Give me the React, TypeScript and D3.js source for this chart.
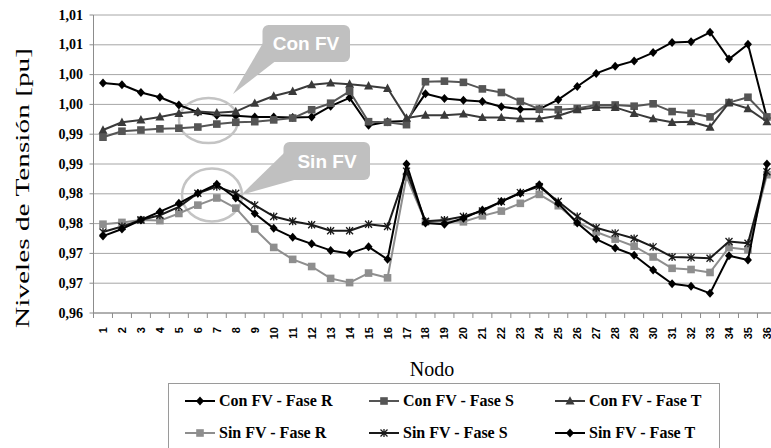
import React from 'react';
import * as d3 from 'd3';

const nodeLabels = ['1','2','3','4','5','6','7','8','9','10','11','12','13','14','15','16','17','18','19','20','21','22','23','24','25','26','27','28','29','30','31','32','33','34','35','36'];

const conFvR = [0.9986,0.9983,0.9970,0.9962,0.9949,0.9937,0.9932,0.9931,0.9929,0.9929,0.9928,0.9929,0.9947,0.9961,0.9915,0.9921,0.9922,0.9968,0.9960,0.9957,0.9955,0.9946,0.9942,0.9942,0.9958,0.9980,1.0002,1.0014,1.0023,1.0037,1.0054,1.0055,1.0071,1.0026,1.0051,0.9927];
const conFvS = [0.9895,0.9905,0.9907,0.9909,0.9910,0.9912,0.9917,0.9920,0.9921,0.9924,0.9927,0.9941,0.9952,0.9972,0.9921,0.9920,0.9916,0.9988,0.9989,0.9987,0.9976,0.9970,0.9955,0.9942,0.9941,0.9943,0.9949,0.9949,0.9947,0.9951,0.9938,0.9935,0.9929,0.9953,0.9962,0.9929];
const conFvT = [0.9907,0.9920,0.9924,0.9929,0.9935,0.9938,0.9936,0.9938,0.9952,0.9964,0.9972,0.9983,0.9986,0.9984,0.9981,0.9977,0.9927,0.9932,0.9932,0.9934,0.9928,0.9928,0.9926,0.9926,0.9931,0.9941,0.9945,0.9945,0.9935,0.9926,0.9920,0.9921,0.9912,0.9953,0.9943,0.9921];
const sinFvR = [0.9749,0.9752,0.9756,0.9755,0.9767,0.9781,0.9793,0.9776,0.9741,0.9710,0.9690,0.9678,0.9658,0.9651,0.9667,0.9659,0.9829,0.9753,0.9754,0.9753,0.9763,0.9771,0.9784,0.9799,0.9780,0.9753,0.9736,0.9724,0.9712,0.9694,0.9675,0.9673,0.9668,0.9710,0.9706,0.9832];
const sinFvS = [0.9736,0.9745,0.9756,0.9764,0.9778,0.9801,0.9812,0.9801,0.9781,0.9762,0.9754,0.9748,0.9738,0.9738,0.9749,0.9745,0.9838,0.9754,0.9756,0.9762,0.9771,0.9787,0.9802,0.9812,0.9787,0.9762,0.9743,0.9734,0.9725,0.9711,0.9694,0.9693,0.9692,0.9720,0.9717,0.9837];
const sinFvT = [0.9729,0.9741,0.9756,0.9770,0.9784,0.9801,0.9816,0.9793,0.9767,0.9742,0.9727,0.9716,0.9705,0.9700,0.9711,0.9690,0.9850,0.9751,0.9749,0.9759,0.9773,0.9787,0.9801,0.9815,0.9784,0.9751,0.9724,0.9709,0.9697,0.9672,0.9649,0.9645,0.9633,0.9696,0.9689,0.9850];

const yTickValues = [0.96,0.965,0.97,0.975,0.98,0.985,0.99,0.995,1.0,1.005,1.01];
const yTickLabels = ['0,96','0,97','0,97','0,98','0,98','0,99','0,99','1,00','1,00','1,01','1,01'];

const seriesNames = ['Con FV - Fase R','Con FV - Fase S','Con FV - Fase T','Sin FV - Fase R','Sin FV - Fase S','Sin FV - Fase T'];
const seriesValues = [conFvR, conFvS, conFvT, sinFvR, sinFvS, sinFvT];
const seriesColors = ['#000000','#555555','#3a3a3a','#8e8e8e','#1a1a1a','#000000'];
const seriesMarkers = ['diamond','square','triangle','square','asterisk','diamond'];

const serifFont = "'Liberation Serif', 'Times New Roman', Times, serif";
const sansFont = "'Liberation Sans', Arial, sans-serif";

function Marker({ type, cx, cy, color }: { type: string; cx: number; cy: number; color: string }) {
  if (type === 'diamond') {
    return <path d={`M${cx},${cy - 4.5}L${cx + 4},${cy}L${cx},${cy + 4.5}L${cx - 4},${cy}Z`} fill={color} />;
  }
  if (type === 'square') {
    return <rect x={cx - 3.8} y={cy - 3.8} width={7.6} height={7.6} fill={color} />;
  }
  if (type === 'triangle') {
    return <path d={`M${cx},${cy - 4.8}L${cx + 4.5},${cy + 3.6}L${cx - 4.5},${cy + 3.6}Z`} fill={color} />;
  }
  return (
    <path
      d={`M${cx - 3.5},${cy - 3.5}L${cx + 3.5},${cy + 3.5}M${cx + 3.5},${cy - 3.5}L${cx - 3.5},${cy + 3.5}M${cx},${cy - 4}L${cx},${cy + 4}`}
      stroke={color}
      strokeWidth={1.3}
      fill="none"
    />
  );
}

export default function App() {
  const x0 = 93.5;
  const bw = 18.97;
  const x = d3.scaleBand<string>().domain(nodeLabels).range([x0, x0 + bw * nodeLabels.length]).paddingInner(0).paddingOuter(0);
  const y = d3.scaleLinear().domain([0.96, 1.01]).range([313, 15]);
  const cx = (i: number) => (x(nodeLabels[i]) as number) + x.bandwidth() / 2;
  const line = d3.line<number>().x((_, i) => cx(i)).y((d) => y(d));

  const plotRight = 771;
  const tickPositions = nodeLabels.map((n) => (x(n) as number) + x.bandwidth());

  const legendCols = [185, 369, 555];
  const legendRows = [401, 433];

  return (
    <svg width={771} height={448} style={{ position: 'absolute', left: 0, top: 0, background: '#fff' }}>
      <rect x={0} y={0} width={771} height={448} fill="#fff" />
      {yTickValues.map((v, i) => (
        <line key={'g' + i} x1={x0} x2={plotRight} y1={y(v)} y2={y(v)} stroke="#a6a6a6" strokeWidth={1} />
      ))}
      <line x1={x0} x2={x0} y1={y(1.01)} y2={y(0.96)} stroke="#8c8c8c" strokeWidth={1} />
      {yTickValues.map((v, i) => (
        <line key={'yt' + i} x1={x0 - 4} x2={x0} y1={y(v)} y2={y(v)} stroke="#8c8c8c" strokeWidth={1} />
      ))}
      {yTickValues.map((v, i) => (
        <text key={'yl' + i} x={83} y={y(v) + 4.5} textAnchor="end" fontFamily={serifFont} fontWeight="bold" fontSize={14}>
          {yTickLabels[i]}
        </text>
      ))}
      <line x1={x0} x2={plotRight} y1={313} y2={313} stroke="#8c8c8c" strokeWidth={1} />
      <line x1={x0} x2={x0} y1={313} y2={318} stroke="#8c8c8c" strokeWidth={1} />
      {tickPositions.map((p, i) => (
        <line key={'xt' + i} x1={p} x2={p} y1={313} y2={318} stroke="#8c8c8c" strokeWidth={1} />
      ))}
      {nodeLabels.map((n, i) => (
        <text
          key={'xl' + i}
          transform={`translate(${cx(i) + 4},${327}) rotate(-90)`}
          textAnchor="end"
          fontFamily={sansFont}
          fontWeight="bold"
          fontSize={11}
        >
          {n}
        </text>
      ))}
      <text
        transform={`translate(29,188) rotate(-90)`}
        textAnchor="middle"
        fontFamily={serifFont}
        fontSize={19}
        textLength={280}
        lengthAdjust="spacingAndGlyphs"
      >
        Niveles de Tensión [pu]
      </text>
      <text x={432} y={376} textAnchor="middle" fontFamily={serifFont} fontSize={20}>
        Nodo
      </text>

      <g fill="#c0c0c0">
        <rect x={262.5} y={25} width={87.5} height={37} rx={6} />
        <path d="M263,43 L233,94 L275,61.5 Z" />
        <rect x={283.5} y={142} width={86.5} height={38} rx={6} />
        <path d="M284,153 L241,195 L296,179.5 Z" />
      </g>
      <text x={306} y={50} textAnchor="middle" fill="#fff" fontFamily={sansFont} fontWeight="bold" fontSize={19}>
        Con FV
      </text>
      <text x={327} y={168} textAnchor="middle" fill="#fff" fontFamily={sansFont} fontWeight="bold" fontSize={19}>
        Sin FV
      </text>
      <ellipse cx={208.5} cy={120.5} rx={29.5} ry={22.5} fill="none" stroke="#c4c4c4" strokeWidth={2.5} />
      <ellipse cx={212} cy={195} rx={30} ry={26.5} fill="none" stroke="#c4c4c4" strokeWidth={2.5} />

      {seriesValues.map((vals, si) => (
        <g key={'s' + si}>
          <path d={line(vals) || ''} fill="none" stroke={seriesColors[si]} strokeWidth={2} strokeLinejoin="round" />
          {vals.map((v, i) => (
            <Marker key={i} type={seriesMarkers[si]} cx={cx(i)} cy={y(v)} color={seriesColors[si]} />
          ))}
        </g>
      ))}

      <rect x={168.5} y={383.5} width={551} height={80} fill="#fff" stroke="#9a9a9a" strokeWidth={1} />
      {seriesNames.map((name, i) => {
        const lx = legendCols[i % 3];
        const ly = legendRows[Math.floor(i / 3)];
        return (
          <g key={'lg' + i}>
            <line x1={lx} x2={lx + 30} y1={ly} y2={ly} stroke={seriesColors[i]} strokeWidth={2} />
            <Marker type={seriesMarkers[i]} cx={lx + 15} cy={ly} color={seriesColors[i]} />
            <text x={lx + 34} y={ly + 5} fontFamily={serifFont} fontWeight="bold" fontSize={16}>
              {name}
            </text>
          </g>
        );
      })}
    </svg>
  );
}
